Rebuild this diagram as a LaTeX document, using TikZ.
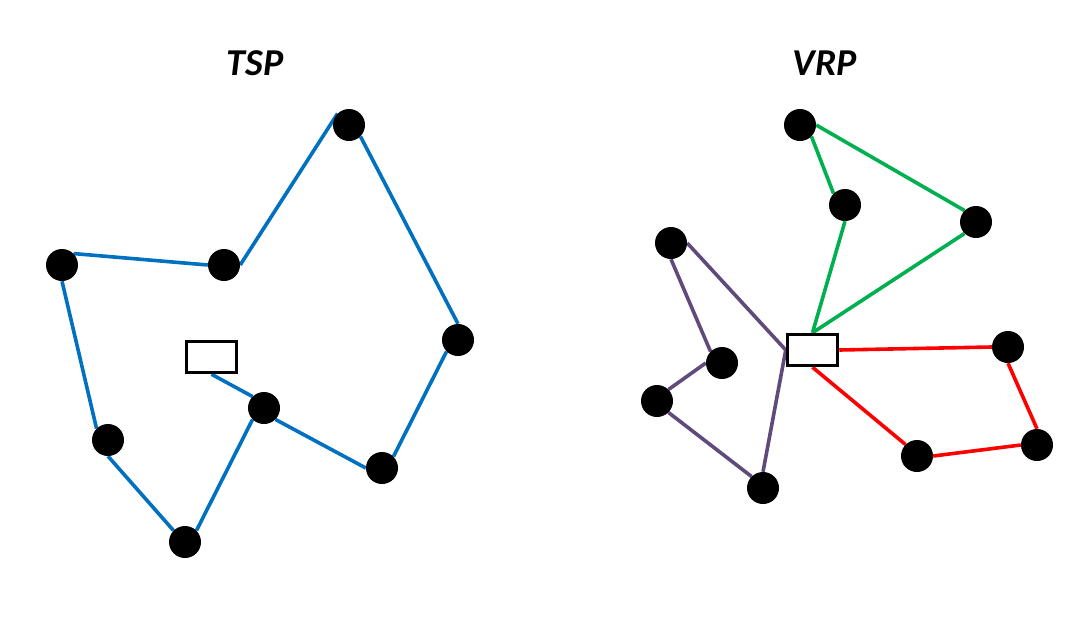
\documentclass[tikz,border=0pt]{standalone}
\usepackage{fontspec}
\setmainfont{Carlito}
\usetikzlibrary{backgrounds}
\definecolor{tspblue}{HTML}{0070C0}
\definecolor{vgreen}{HTML}{00B050}
\definecolor{vred}{HTML}{FF0000}
\definecolor{vpurple}{HTML}{604A7B}
\begin{document}
\begin{tikzpicture}[x=1pt,y=-1pt,
  cust/.style={circle,fill=black,inner sep=0pt,minimum size=32pt},
  depot/.style={draw=black,line width=3.5pt,fill=white,minimum width=50pt,minimum height=31pt,inner sep=0pt},
  route/.style={line width=3.6pt},
  ttl/.style={font=\fontsize{38}{40}\selectfont\bfseries\itshape}]
\useasboundingbox (0,0) rectangle (1087,622);
% titles
\node[ttl] (t1) at (255,63) {TSP};
\node[ttl] (t2) at (825,63) {VRP};
% TSP
\node[cust] (a1) at (349,125) {};
\node[cust] (a2) at (224,265) {};
\node[cust] (a3) at (62,265) {};
\node[cust] (a4) at (108,440) {};
\node[cust] (a5) at (185,542) {};
\node[cust] (a6) at (264,408) {};
\node[cust] (a7) at (382,468) {};
\node[cust] (a8) at (458,340) {};
\node[depot] (d1) at (211.5,357) {};
% VRP
\node[cust] (b1) at (800,125) {};
\node[cust] (b2) at (845,205) {};
\node[cust] (b3) at (976,222) {};
\node[cust] (b4) at (671,243) {};
\node[cust] (b5) at (722,363) {};
\node[cust] (b6) at (657,401) {};
\node[cust] (b7) at (763,488) {};
\node[cust] (b8) at (1008,347) {};
\node[cust] (b9) at (1037,445) {};
\node[cust] (b10) at (917,456) {};
\node[depot] (d2) at (812.5,350) {};
\begin{scope}[on background layer]
\draw[route,tspblue] (d1.south) -- (a6.north west);
\draw[route,tspblue] (a6.south west) -- (a5.north east);
\draw[route,tspblue] (a5.north west) -- (a4.south);
\draw[route,tspblue] (a4.north west) -- (a3.south);
\draw[route,tspblue] (a3.north east) -- (a2.west);
\draw[route,tspblue] (a2.east) -- (a1.north west);
\draw[route,tspblue] (a1.south east) -- (a8.north);
\draw[route,tspblue] (a8.south west) -- (a7.north east);
\draw[route,tspblue] (a7.west) -- (a6.south east);
% green
\draw[route,vgreen] (d2.north) -- (b2.south);
\draw[route,vgreen] (b2.north west) -- (b1.south east);
\draw[route,vgreen] (b1.east) -- (b3.north west);
\draw[route,vgreen] (b3.south west) -- (d2.north);
% purple
\draw[route,vpurple] (d2.west) -- (b4.east);
\draw[route,vpurple] (b4.south) -- (b5.north west);
\draw[route,vpurple] (b5.west) -- (b6.north east);
\draw[route,vpurple] (b6.south east) -- (b7.north west);
\draw[route,vpurple] (b7.north) -- (d2.west);
% red
\draw[route,vred] (d2.east) -- (b8.west);
\draw[route,vred] (b8.south) -- (b9.north);
\draw[route,vred] (b9.west) -- (b10.east);
\draw[route,vred] (b10.north west) -- (d2.south);
\end{scope}
\end{tikzpicture}
\end{document}
